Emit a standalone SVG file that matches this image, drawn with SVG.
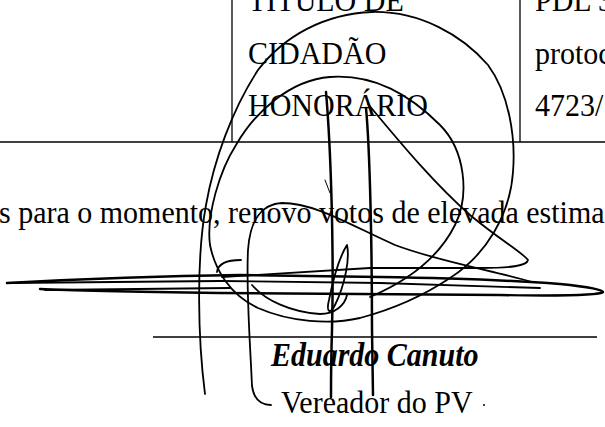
<svg xmlns="http://www.w3.org/2000/svg" width="605" height="427" viewBox="0 0 605 427">
<style>
.t{font-family:"Liberation Serif","Times New Roman",serif;font-size:30px;fill:#000}
.bi{font-family:"Liberation Serif","Times New Roman",serif;font-size:30px;font-weight:bold;font-style:italic;fill:#000}
.rule{stroke:#000;stroke-width:1.3;fill:none}
.sig{stroke:#000;fill:none;stroke-linecap:round;stroke-linejoin:round}
.s1{stroke-width:1.8}
.s2{stroke-width:2.5}
.s3{stroke-width:1}
</style>
<rect width="605" height="427" fill="#fff"/>
<g id="table">
  <line class="rule" x1="232" y1="0" x2="232" y2="142"/>
  <line class="rule" x1="520" y1="0" x2="520" y2="142"/>
  <line class="rule" x1="0" y1="142" x2="605" y2="142"/>
  <text class="t" transform="translate(248 11) scale(1 1.08)">TITULO DE</text>
  <text class="t" transform="translate(248 64) scale(1 1.08)">CIDADÃO</text>
  <text class="t" transform="translate(248 116) scale(1 1.08)">HONORÁRIO</text>
  <text class="t" transform="translate(535 11) scale(1 1.08)">PDL 3</text>
  <text class="t" transform="translate(535 64) scale(1 1.08)">protoc</text>
  <text class="t" transform="translate(535 116) scale(1 1.08)">4723/</text>
</g>
<g id="body">
  <text class="t" transform="translate(-1 223) scale(1 1.08)">s para o momento, renovo votos de elevada estima</text>
</g>
<g id="signature-line">
  <line class="rule" x1="153" y1="337" x2="597" y2="337"/>
</g>
<g id="name">
  <text class="bi" transform="translate(271 366) scale(1 1.1)">Eduardo Canuto</text>
  <text class="t" transform="translate(281 413) scale(1 1.08)">Vereador do PV</text>
  <circle cx="484" cy="405" r="1" fill="#000"/>
</g>
<g id="signature">
  <path class="sig s1" d="M 205 394 C 198 340 196 260 206 205 C 214 160 232 110 258 70 C 285 35 325 14 372 12 C 420 11 462 35 488 65 C 508 92 516 135 513 172 C 510 215 486 255 450 278 C 420 298 390 310 360 318 C 330 325 290 322 258 308 C 230 295 215 270 210 245 C 206 215 220 170 236 145 C 255 112 290 80 330 77 C 375 74 410 95 440 125 C 465 150 470 195 455 225 C 440 255 410 280 370 297"/>
  <path class="sig s1" d="M 271 405 C 262 405 254 400 252 386 C 250 340 246 290 248 250 C 250 220 262 204 282 203 C 315 203 350 225 395 245 C 440 262 500 272 532 282"/>
  <path class="sig s2" d="M 326 92 C 331 150 334 250 332 330 C 331 360 331 380 331 397"/>
  <path class="sig s2" d="M 366 108 C 370 150 372 250 372 330 L 373 395"/>
  <path class="sig s1" d="M 368 104 C 390 130 430 180 470 215 C 500 240 522 252 528 260 C 527 266 510 268 480 268 C 440 268 400 268 370 268 L 222 277"/>
  <path class="sig s1" d="M 347 245 C 350 258 345 285 335 305 C 330 315 326 312 329 300 C 333 280 340 256 347 245 Z"/>
  <path class="sig s2" d="M 7 283 C 80 279 160 276 240 275 L 380 277 C 450 278 520 281 560 284 C 590 287 603 290 603 292 C 600 295 560 296 500 295 L 220 293 C 150 292 80 291 40 289"/>
  <path class="sig s1" d="M 7 283 L 220 281 L 380 283 L 540 288"/>
  <path class="sig s1" d="M 45 290 L 230 288"/>
  <path class="sig s1" d="M 217 272 C 218 264 225 260 241 260"/>
  <path class="sig s1" d="M 252 285 C 265 300 290 312 320 314 C 335 314 345 305 347 295"/>
  <path class="sig s3" d="M 325 180 L 330 193"/>
</g>
</svg>
